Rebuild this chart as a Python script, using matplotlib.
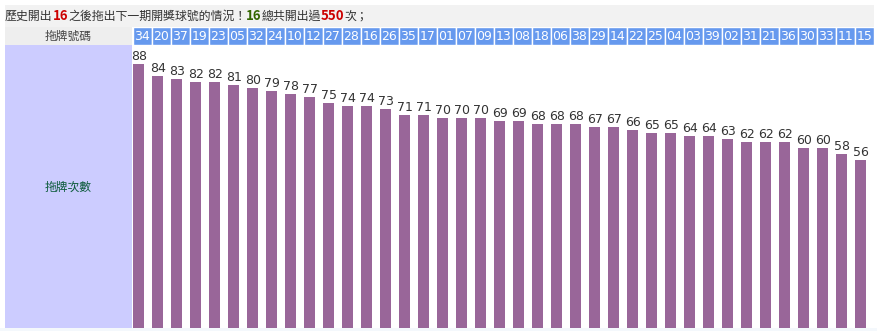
import numpy as np
import matplotlib
matplotlib.use("Agg")
import matplotlib.pyplot as plt
from matplotlib.patches import Rectangle

plt.rcParams['font.family'] = ['Noto Sans CJK TC', 'DejaVu Sans']

# 拖牌號碼 與 拖牌次數
numbers = ["34", "20", "37", "19", "23", "05", "32", "24", "10", "12", "27", "28", "16",
           "26", "35", "17", "01", "07", "09", "13", "08", "18", "06", "38", "29", "14",
           "22", "25", "04", "03", "39", "02", "31", "21", "36", "30", "33", "11", "15"]
counts = [88, 84, 83, 82, 82, 81, 80, 79, 78, 77, 75, 74, 74,
          73, 71, 71, 70, 70, 70, 69, 69, 68, 68, 68, 67, 67,
          66, 65, 65, 64, 64, 63, 62, 62, 62, 60, 60, 58, 56]
title_parts = [("歷史開出", "#333333", "normal"), ("16", "#cc0000", "bold"),
               ("之後拖出下一期開獎球號的情況！", "#333333", "normal"),
               ("16", "#336600", "bold"), ("總共開出過", "#333333", "normal"),
               ("550", "#cc0000", "bold"), ("次；", "#333333", "normal")]
row_label = "拖牌號碼"
col_label = "拖牌次數"

W, H = 878, 331
fig = plt.figure(figsize=(W / 100, H / 100), dpi=100)
fig.patch.set_facecolor("white")

# background layer in pixel coords
bg = fig.add_axes([0, 0, 1, 1])
bg.set_xlim(0, W)
bg.set_ylim(H, 0)
bg.axis("off")
bg.add_patch(Rectangle((5, 5), 869, 22, facecolor="#f2f2f2", edgecolor="none"))
bg.add_patch(Rectangle((5, 27), 127, 18, facecolor="#eeeeee", edgecolor="none"))
bg.add_patch(Rectangle((5, 45), 127, 283, facecolor="#ccccff", edgecolor="none"))
bg.add_patch(Rectangle((0, 328), W, 3, facecolor="#f4f8fc", edgecolor="none"))
bg.text(68, 36.5, row_label, ha="center", va="center", fontsize=8.5, color="#444444")
bg.text(68, 187, col_label, ha="center", va="center", fontsize=8.5, color="#0b5a3a")

# title with mixed colours
fig.canvas.draw()
renderer = fig.canvas.get_renderer()
x = 5
for txt, col, wt in title_parts:
    size = 9.5 if wt == "bold" else 8.6
    t = bg.text(x, 16, txt, ha="left", va="center", fontsize=size, color=col,
                fontweight=wt)
    ext = t.get_window_extent(renderer)
    x += ext.width

n = len(numbers)
idx = np.arange(n)

# header cells with ball numbers
hx = fig.add_axes([133 / W, (H - 45) / H, 741 / W, 18 / H])
hx.set_xlim(0, n)
hx.set_ylim(0, 1)
hx.axis("off")
hx.bar(idx, np.ones(n), width=1, align="edge", color="#6699ee",
       edgecolor="white", linewidth=1)
for i, num in enumerate(numbers):
    hx.text(i + 0.08, 0.48, num, ha="left", va="center", fontsize=9,
            color="white", family="DejaVu Sans")

# bars
ax = fig.add_axes([133 / W, 3 / H, 741 / W, 283 / H])
ax.set_xlim(0, n)
ax.set_ylim(0, 283 / 3)
ax.axis("off")
ax.bar(idx, counts, width=0.58, align="edge", color="#996699")
for i, v in enumerate(counts):
    ax.text(i + 0.32, v + 1.3, str(v), ha="center", va="baseline", fontsize=9,
            color="#333333", family="DejaVu Sans")

fig.savefig("out.png", dpi=100)
